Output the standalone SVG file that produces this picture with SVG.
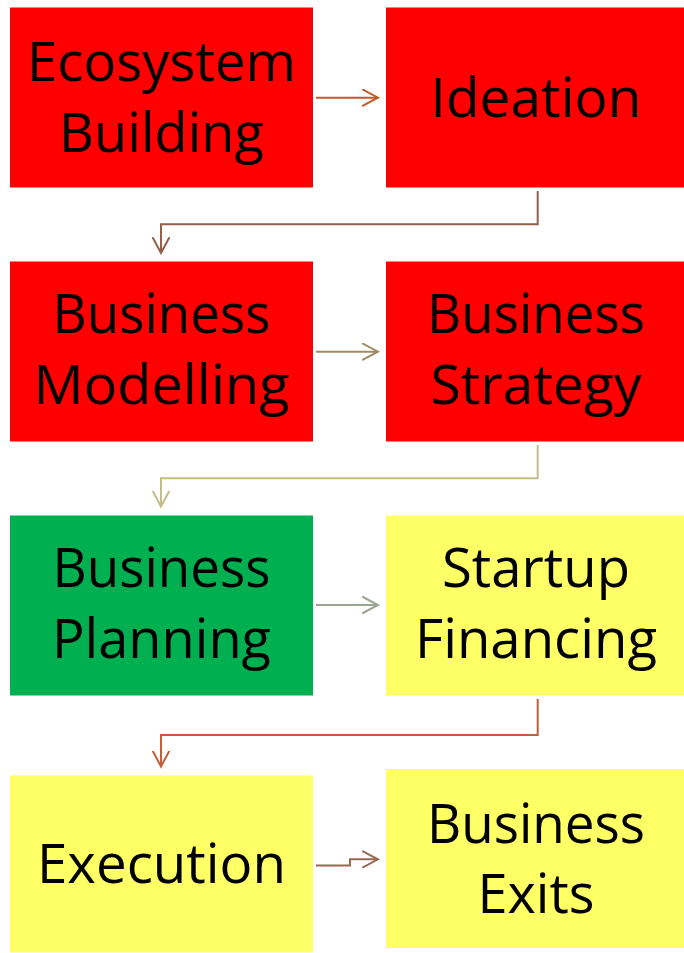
<svg xmlns="http://www.w3.org/2000/svg" width="684" height="953" viewBox="0 0 684 953">
<style>
.red{fill:#FF0000}
.green{fill:#00B050}
.yel{fill:#FFFF66}
.t{font-family:"Open Sans","Liberation Sans",sans-serif;font-size:55px;fill:#000;text-anchor:middle}
.c{fill:none;stroke-width:2}
.head{fill:none;stroke-width:2;stroke-linecap:round;stroke-linejoin:miter}
</style>
<defs>
<marker id="m1" markerUnits="userSpaceOnUse" viewBox="0 0 18 18" refX="16" refY="9" markerWidth="18" markerHeight="18" orient="auto"><path class="head" d="M1,1 L16,9 L1,17" stroke="#C55A28"/></marker>
<marker id="m2" markerUnits="userSpaceOnUse" viewBox="0 0 18 18" refX="16" refY="9" markerWidth="18" markerHeight="18" orient="auto"><path class="head" d="M1,1 L16,9 L1,17" stroke="#93604D"/></marker>
<marker id="m3" markerUnits="userSpaceOnUse" viewBox="0 0 18 18" refX="16" refY="9" markerWidth="18" markerHeight="18" orient="auto"><path class="head" d="M1,1 L16,9 L1,17" stroke="#A08A62"/></marker>
<marker id="m4" markerUnits="userSpaceOnUse" viewBox="0 0 18 18" refX="16" refY="9" markerWidth="18" markerHeight="18" orient="auto"><path class="head" d="M1,1 L16,9 L1,17" stroke="#C4BC8A"/></marker>
<marker id="m5" markerUnits="userSpaceOnUse" viewBox="0 0 18 18" refX="16" refY="9" markerWidth="18" markerHeight="18" orient="auto"><path class="head" d="M1,1 L16,9 L1,17" stroke="#9AA592"/></marker>
<marker id="m6" markerUnits="userSpaceOnUse" viewBox="0 0 18 18" refX="16" refY="9" markerWidth="18" markerHeight="18" orient="auto"><path class="head" d="M1,1 L16,9 L1,17" stroke="#C0603A"/></marker>
<marker id="m7" markerUnits="userSpaceOnUse" viewBox="0 0 18 18" refX="16" refY="9" markerWidth="18" markerHeight="18" orient="auto"><path class="head" d="M1,1 L16,9 L1,17" stroke="#9C6650"/></marker>
</defs>
<rect width="684" height="953" fill="#FFFFFF"/>

<g id="connectors">
<path class="c" stroke="#C55A28" d="M316,97.7 L378,97.7" marker-end="url(#m1)"/>
<path class="c" stroke="#93604D" d="M537.7,191 L537.7,224.3 L161,224.3 L161,253" marker-end="url(#m2)"/>
<path class="c" stroke="#A08A62" d="M316,351.7 L378,351.7" marker-end="url(#m3)"/>
<path class="c" stroke="#C4BC8A" d="M537.7,445 L537.7,478.3 L161,478.3 L161,506.5" marker-end="url(#m4)"/>
<path class="c" stroke="#9AA592" d="M316,605 L378,605" marker-end="url(#m5)"/>
<path class="c" stroke="#C0603A" d="M537.7,699 L537.7,735 L161,735 L161,766.5" marker-end="url(#m6)"/>
<path class="c" stroke="#9C6650" d="M316,865.5 L350,865.5 L350,859.3 L378,859.3" marker-end="url(#m7)"/>
</g>

<g id="ecosystem-building">
<rect class="red" x="10" y="7.5" width="303" height="180"/>
<text class="t" x="161.5" y="81" textLength="269" lengthAdjust="spacingAndGlyphs">Ecosystem</text>
<text class="t" x="161.5" y="152" textLength="205" lengthAdjust="spacingAndGlyphs">Building</text>
</g>
<g id="ideation">
<rect class="red" x="386" y="7.5" width="298" height="180"/>
<text class="t" x="536" y="117" textLength="211" lengthAdjust="spacingAndGlyphs">Ideation</text>
</g>

<g id="business-modelling">
<rect class="red" x="10" y="261.5" width="303" height="180"/>
<text class="t" x="161.5" y="333" textLength="218" lengthAdjust="spacingAndGlyphs">Business</text>
<text class="t" x="161.5" y="404" textLength="256" lengthAdjust="spacingAndGlyphs">Modelling</text>
</g>
<g id="business-strategy">
<rect class="red" x="386" y="261.5" width="298" height="180"/>
<text class="t" x="536" y="333" textLength="218" lengthAdjust="spacingAndGlyphs">Business</text>
<text class="t" x="536" y="404" textLength="211" lengthAdjust="spacingAndGlyphs">Strategy</text>
</g>

<g id="business-planning">
<rect class="green" x="10" y="515.5" width="303" height="180"/>
<text class="t" x="161.5" y="587" textLength="218" lengthAdjust="spacingAndGlyphs">Business</text>
<text class="t" x="161.5" y="658" textLength="219" lengthAdjust="spacingAndGlyphs">Planning</text>
</g>
<g id="startup-financing">
<rect class="yel" x="386" y="515.5" width="298" height="180"/>
<text class="t" x="536" y="587" textLength="188" lengthAdjust="spacingAndGlyphs">Startup</text>
<text class="t" x="536" y="658" textLength="242" lengthAdjust="spacingAndGlyphs">Financing</text>
</g>

<g id="execution">
<rect class="yel" x="10" y="775.5" width="303" height="177"/>
<text class="t" x="161.5" y="883" textLength="249" lengthAdjust="spacingAndGlyphs">Execution</text>
</g>
<g id="business-exits">
<rect class="yel" x="386" y="769" width="298" height="179"/>
<text class="t" x="536" y="843" textLength="218" lengthAdjust="spacingAndGlyphs">Business</text>
<text class="t" x="536" y="913" textLength="117" lengthAdjust="spacingAndGlyphs">Exits</text>
</g>
</svg>
